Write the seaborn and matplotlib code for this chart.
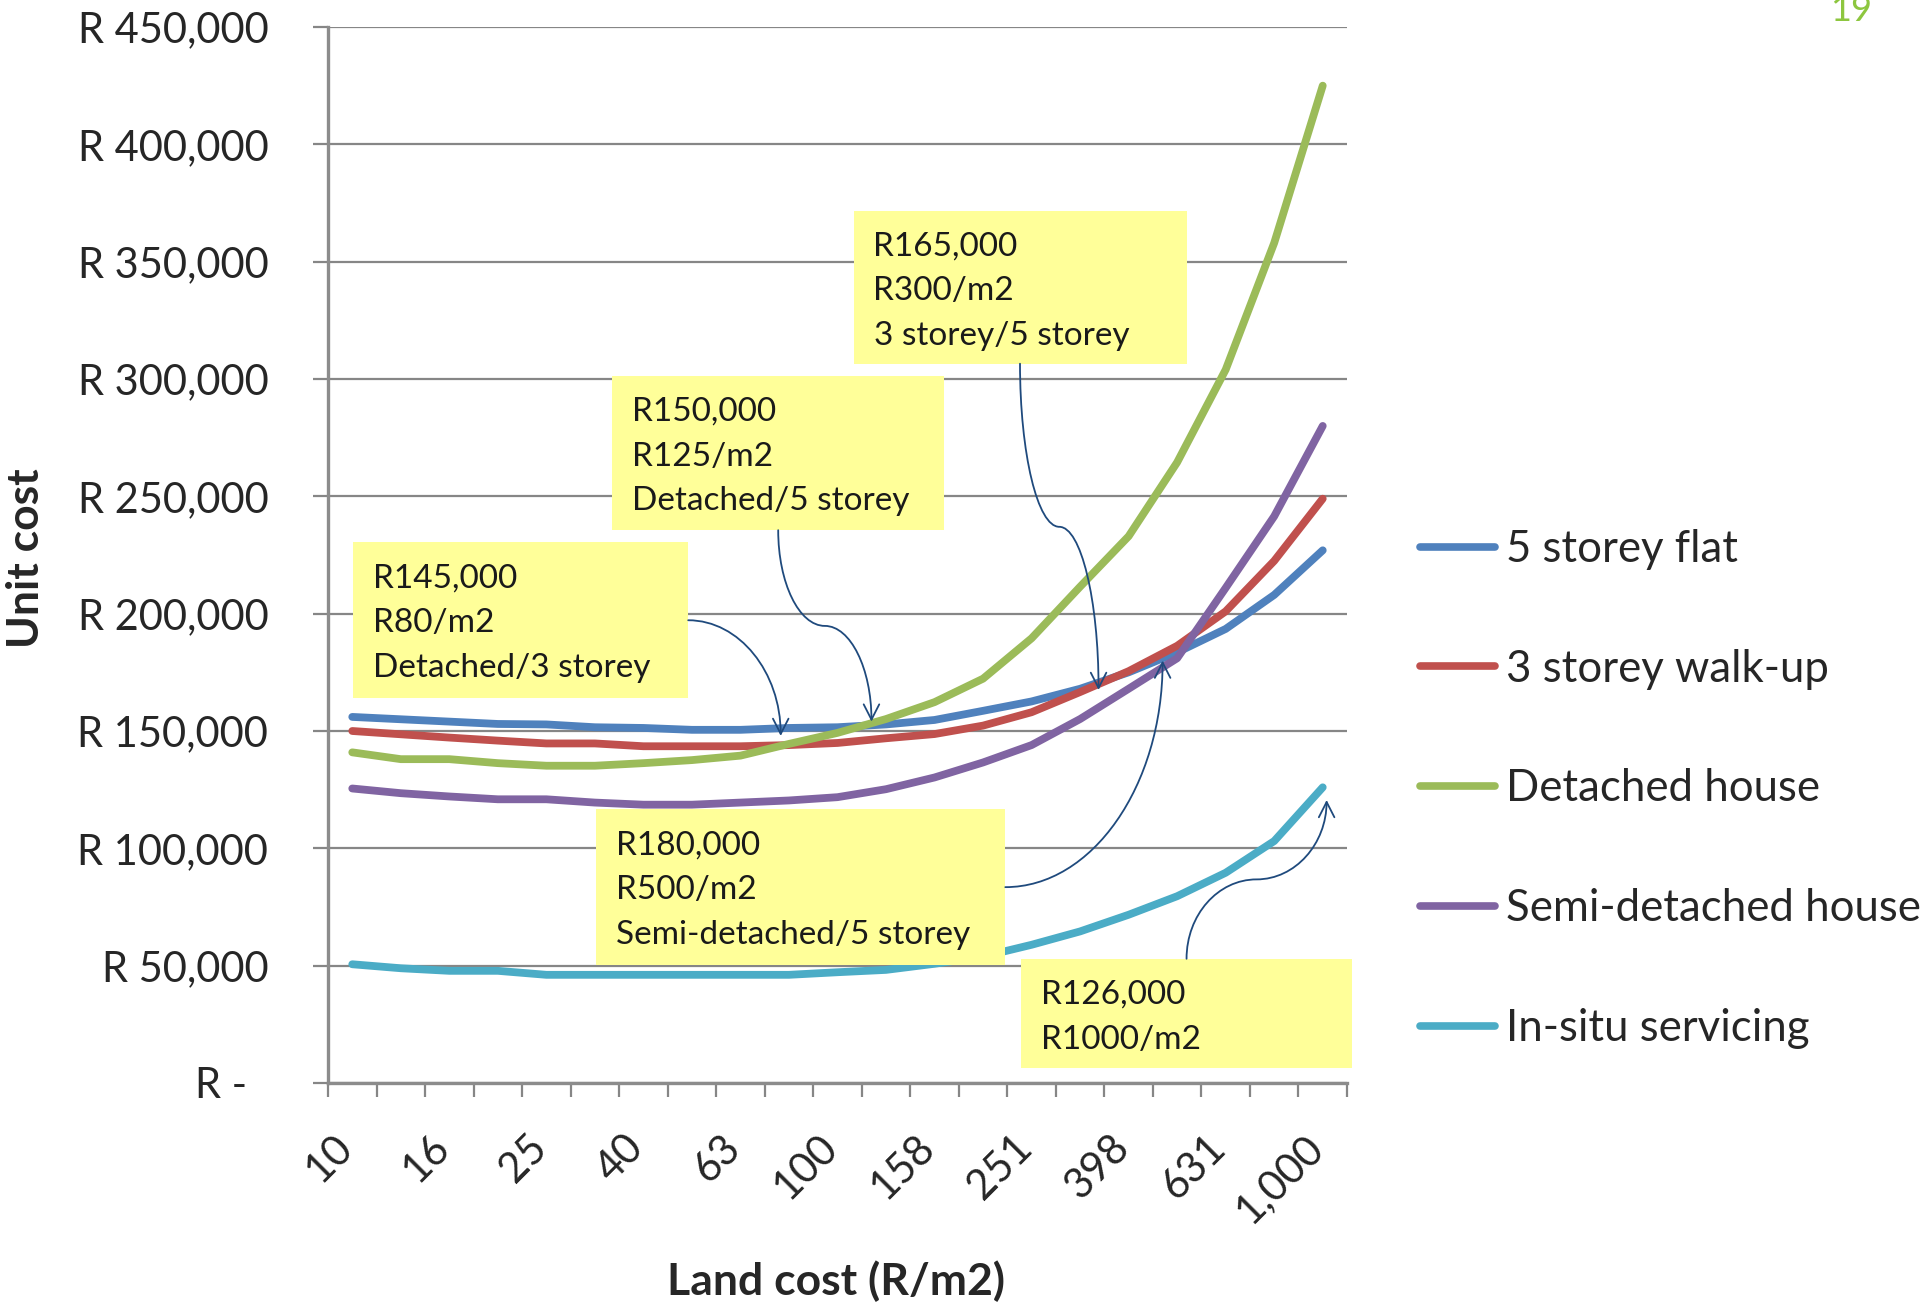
import numpy as np
import pandas as pd
import matplotlib
matplotlib.use("Agg")
import matplotlib.pyplot as plt
import seaborn as sns
from matplotlib.patches import Rectangle, FancyArrowPatch
from matplotlib.path import Path
from matplotlib.lines import Line2D
from matplotlib.ticker import FuncFormatter
from matplotlib.transforms import ScaledTranslation

# ---------------------------------------------------------------- data
land_cost = [10, 13, 16, 20, 25, 32, 40, 50, 63, 79, 100,
             126, 158, 200, 251, 316, 398, 501, 631, 794, 1000]

series_names = ["5 storey flat", "3 storey walk-up", "Detached house",
                "Semi-detached house", "In-situ servicing"]

five_storey_flat = [156000, 155000, 154000, 153000, 152800, 151600, 151300,
                    150500, 150500, 151300, 151600, 152800, 154700, 158600,
                    162600, 168000, 175000, 183500, 193500, 208000, 227000]
three_storey_walkup = [150000, 148600, 147200, 145900, 144700, 144700, 143500,
                       143500, 143500, 144000, 144900, 146900, 148700, 152300,
                       158000, 166600, 175500, 186300, 201000, 222500, 249000]
detached_house = [140900, 138000, 138000, 136300, 135200, 135200, 136300,
                  137600, 139500, 144500, 149200, 155100, 162300, 172300,
                  189500, 211500, 233000, 264500, 304000, 358000, 425000]
semi_detached_house = [125500, 123500, 122100, 120900, 120900, 119500, 118600,
                       118600, 119500, 120400, 121800, 125200, 130200, 136600,
                       144000, 155100, 168000, 181000, 211000, 241500, 280000]
in_situ_servicing = [50600, 48900, 47800, 47800, 46100, 46100, 46100, 46100,
                     46100, 46100, 47200, 48200, 50800, 53900, 58900, 64600,
                     71700, 79600, 89600, 103100, 126000]

annotation_lines = [
    ["R145,000", "R80/m2", "Detached/3 storey"],
    ["R150,000", "R125/m2", "Detached/5 storey"],
    ["R165,000", "R300/m2", "3 storey/5 storey"],
    ["R180,000", "R500/m2", "Semi-detached/5 storey"],
    ["R126,000", "R1000/m2"],
]

# ---------------------------------------------------------------- styling
sns.set_style("white")
plt.rcParams["font.family"] = ["Lato", "DejaVu Sans"]

colors = ["#4F81BD", "#C0504D", "#9BBB59", "#8064A2", "#4BACC6"]
grid_grey = "#868686"
axis_grey = "#8C8C8C"
arrow_blue = "#1F4A7D"
note_yellow = "#FFFF99"

W_PX, H_PX = 1920, 1311
fig = plt.figure(figsize=(W_PX / 100, H_PX / 100), dpi=100)


def ff(x, y):
    """pixel position measured from the top-left corner -> figure fraction"""
    return x / W_PX, 1 - y / H_PX


left, top = ff(328, 27)
right, bottom = ff(1347, 1083)
ax = fig.add_axes([left, bottom, right - left, top - bottom])

values = [five_storey_flat, three_storey_walkup, detached_house,
          semi_detached_house, in_situ_servicing]
df = pd.DataFrame({
    "idx": np.tile(np.arange(len(land_cost)), len(series_names)),
    "cost": np.concatenate(values),
    "series": np.repeat(series_names, len(land_cost)),
})

sns.lineplot(data=df, x="idx", y="cost", hue="series", hue_order=series_names,
             palette=colors, linewidth=5.6, errorbar=None, legend=False, ax=ax,
             solid_capstyle="round", solid_joinstyle="round")

# y axis
ax.set_ylim(0, 450000)
ax.set_yticks(np.arange(0, 450001, 50000))
ax.yaxis.set_major_formatter(FuncFormatter(
    lambda v, p: "R -  " if v == 0 else f"R {int(v):,}"))
ax.yaxis.grid(True, color=grid_grey, linewidth=1.6)
ax.set_axisbelow(True)
ax.tick_params(axis="y", which="major", length=11, width=1.6, color=grid_grey,
               pad=32, labelsize=30, direction="out", left=True)

# x axis: category boundaries carry the tick marks, centres carry labels
n = len(land_cost)
ax.set_xlim(-0.5, n - 0.5)
ax.set_xticks(np.arange(-0.5, n, 1.0))
ax.set_xticklabels([])
label_pos = np.arange(0, n, 2)
ax.set_xticks(label_pos, [f"{land_cost[i]:,}" for i in label_pos], minor=True)
ax.tick_params(axis="x", which="major", length=10, width=1.6, color=grid_grey,
               direction="out", bottom=True)
ax.tick_params(axis="x", which="minor", length=0, pad=42, labelsize=30)
shift = ScaledTranslation(-6 / 100, 0, fig.dpi_scale_trans)
for lbl in ax.get_xticklabels(minor=True):
    lbl.set_rotation(45)
    lbl.set_ha("right")
    lbl.set_va("center")
    lbl.set_rotation_mode("anchor")
    lbl.set_transform(lbl.get_transform() + shift)

for s in ("top", "right"):
    ax.spines[s].set_visible(False)
for s in ("left", "bottom"):
    ax.spines[s].set_color(axis_grey)
    ax.spines[s].set_linewidth(2.4)
ax.set_xlabel("")
ax.set_ylabel("")

fig.text(*ff(26, 558), "Unit cost", rotation=90, ha="center", va="center",
         fontsize=32, fontweight="bold")
fig.text(*ff(836, 1281), "Land cost (R/m2)", ha="center", va="center",
         fontsize=32, fontweight="bold")

# legend
handles = [Line2D([0], [0], color=c, lw=5.5, solid_capstyle="round")
           for c in colors]
ax.legend(handles, series_names, loc="center left",
          bbox_to_anchor=ff(1420, 789), bbox_transform=fig.transFigure,
          frameon=False, borderpad=0, borderaxespad=0, fontsize=31.5,
          handlelength=1.72, handletextpad=0.25, labelspacing=1.8)

# page number
fig.text(*ff(1851, 21), "19", ha="center", va="baseline", fontsize=26,
         color="#8DC63F")

# ---------------------------------------------------------------- call-outs
boxes = [(352.7, 542.5, 688.2, 698.0),
         (612.3, 375.9, 944.1, 530.2),
         (853.5, 210.6, 1186.5, 363.7),
         (596.3, 809.4, 1005.3, 964.9),
         (1021.2, 958.8, 1351.9, 1067.8)]
tips = [(8.83, 147900), (10.70, 154000), (15.38, 167500),
        (16.70, 180000), (20.08, 120600)]
# where each connector leaves its box, and its shape
starts = [("right", "quarter"), ("bottom", "s"), ("bottom", "s"),
          ("right", "quarter"), ("top", "s")]

for (x0, y0, x1, y1), lines in zip(boxes, annotation_lines):
    bx, by = ff(x0, y1)
    fig.patches.append(Rectangle((bx, by), (x1 - x0) / W_PX, (y1 - y0) / H_PX,
                                 transform=fig.transFigure, facecolor=note_yellow,
                                 edgecolor="none", zorder=5))
    for k, line in enumerate(lines):
        fig.text(*ff(x0 + 20, y0 + 45 + 44.8 * k), line, fontsize=24,
                 ha="left", va="baseline", color="#1a1a1a", zorder=6)

to_fig = fig.transFigure.inverted()
K = 0.5523


def lerp(a, b, t):
    return (a[0] + (b[0] - a[0]) * t, a[1] + (b[1] - a[1]) * t)


for (x0, y0, x1, y1), tip, (side, shape) in zip(boxes, tips, starts):
    if side == "right":
        S = ff(x1, (y0 + y1) / 2)
    elif side == "bottom":
        S = ff((x0 + x1) / 2, y1)
    else:
        S = ff((x0 + x1) / 2, y0)
    E = tuple(to_fig.transform(ax.transData.transform(tip)))
    if shape == "quarter":
        C = (E[0], S[1])
        verts = [S, lerp(S, C, K), lerp(E, C, K), E]
        codes = [Path.MOVETO, Path.CURVE4, Path.CURVE4, Path.CURVE4]
    else:
        M = ((S[0] + E[0]) / 2, (S[1] + E[1]) / 2)
        C1 = (S[0], M[1])
        C2 = (E[0], M[1])
        verts = [S, lerp(S, C1, K), lerp(M, C1, K), M,
                 lerp(M, C2, K), lerp(E, C2, K), E]
        codes = [Path.MOVETO] + [Path.CURVE4] * 6
    arr = FancyArrowPatch(path=Path(verts, codes), transform=fig.transFigure,
                          arrowstyle="->,head_length=0.55,head_width=0.28",
                          mutation_scale=20, color=arrow_blue, lw=1.3,
                          shrinkA=0, shrinkB=0, zorder=7)
    fig.patches.append(arr)

fig.savefig("out.png", dpi=100, facecolor="white")
